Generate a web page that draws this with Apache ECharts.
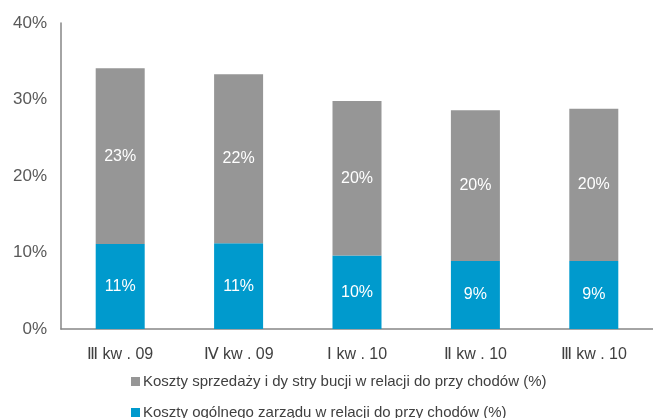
<!DOCTYPE html>
<html>
<head>
<meta charset="utf-8">
<script src="https://cdn.jsdelivr.net/npm/echarts@6/dist/echarts.min.js"></script>
<style>
  html, body { margin: 0; padding: 0; background: #fff; }
  #chart-container { width: 653px; height: 418px; }
</style>
</head>
<body>
<div id="chart-container"></div>
<script>
var quarters = ['Ⅲ kw . 09', 'Ⅳ kw . 09', 'Ⅰ kw . 10', 'Ⅱ kw . 10', 'Ⅲ kw . 10'];
var adminCosts = [11.1, 11.2, 9.6, 8.9, 8.9];
var salesCosts = [23.0, 22.1, 20.2, 19.7, 19.9];
var salesName = 'Koszty sprzedaży i dy stry bucji w relacji do przy chodów (%)';
var adminName = 'Koszty ogólnego zarządu w relacji do przy chodów (%)';

var dom = document.getElementById('chart-container');
var myChart = echarts.init(dom, null, { renderer: 'canvas' });

var labelStyle = {
  show: true,
  position: 'inside',
  color: '#fff',
  fontSize: 16,
  fontFamily: 'Liberation Sans, Arial, sans-serif',
  formatter: function (p) { return Math.round(p.value) + '%'; }
};

function legendAt(top, name) {
  return {
    left: 126,
    top: top,
    itemWidth: 9,
    itemHeight: 9,
    icon: 'rect',
    textStyle: { fontSize: 15, color: '#404040', padding: [0, 0, 0, -2] },
    data: [name]
  };
}

var option = {
  animation: false,
  textStyle: { fontFamily: 'Liberation Sans, Arial, sans-serif' },
  grid: { left: 61, right: -4, top: 23, bottom: 89 },
  legend: [legendAt(369, salesName), legendAt(400, adminName)],
  xAxis: {
    type: 'category',
    data: quarters,
    axisLine: { lineStyle: { color: '#868686', width: 1.5 } },
    axisTick: { show: false },
    axisLabel: { fontSize: 16, color: '#404040', margin: 18 }
  },
  yAxis: {
    type: 'value',
    min: 0,
    max: 40,
    interval: 10,
    axisLine: { show: true, lineStyle: { color: '#868686', width: 1.5 } },
    axisTick: { show: false },
    splitLine: { show: false },
    axisLabel: { fontSize: 17, color: '#595959', margin: 14, formatter: '{value}%' }
  },
  series: [
    {
      name: adminName,
      type: 'bar',
      stack: 'koszty',
      barWidth: 49,
      itemStyle: { color: '#009ACD' },
      label: labelStyle,
      data: adminCosts
    },
    {
      name: salesName,
      type: 'bar',
      stack: 'koszty',
      barWidth: 49,
      itemStyle: { color: '#969696' },
      label: labelStyle,
      data: salesCosts
    }
  ]
};

myChart.setOption(option);
window.addEventListener('resize', myChart.resize);
</script>
</body>
</html>
